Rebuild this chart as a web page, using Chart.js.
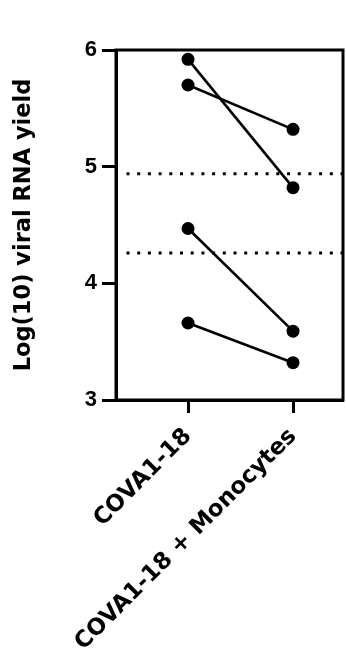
<!DOCTYPE html>
<html>
<head>
  <meta charset="utf-8">
  <title>Viral RNA yield</title>
  <script src="https://cdn.jsdelivr.net/npm/chart.js@4.4.1/dist/chart.umd.min.js"></script>
  <style>
    html, body {
      margin: 0;
      padding: 0;
      background: #ffffff;
    }
    #wrap {
      width: 346px;
      height: 657px;
    }
  </style>
</head>
<body>
  <div id="wrap"><canvas id="myChart"></canvas></div>
  <script>
    // datos
    var categories = ['COVA1-18', 'COVA1-18 + Monocytes'];
    var cova = [5.92, 5.70, 4.47, 3.66];
    var covaMono = [4.82, 5.32, 3.59, 3.32];
    var thresholds = [4.94, 4.26];
    var yTicks = [3, 4, 5, 6];

    var xMin = -0.686;
    var xMax = 1.476;
    var fontName = '"DejaVu Sans", sans-serif';

    var datasets = [];

    // lineas punteadas de referencia
    for (var t = 0; t < thresholds.length; t++) {
      datasets.push({
        data: [{ x: xMin + 0.1, y: thresholds[t] }, { x: xMax, y: thresholds[t] }],
        borderColor: '#000',
        borderWidth: 3,
        borderDash: [3, 7.7],
        pointRadius: 0,
        tension: 0
      });
    }

    // pares antes / despues
    for (var i = 0; i < cova.length; i++) {
      datasets.push({
        data: [{ x: 0, y: cova[i] }, { x: 1, y: covaMono[i] }],
        borderColor: '#000',
        borderWidth: 2.6,
        pointRadius: 6.5,
        pointBackgroundColor: '#000',
        pointBorderWidth: 0,
        tension: 0
      });
    }

    // marco alrededor del area del grafico
    var framePlugin = {
      id: 'frame',
      beforeDatasetsDraw: function(chart) {
        var a = chart.chartArea;
        var ctx = chart.ctx;
        ctx.save();
        ctx.strokeStyle = '#000';
        ctx.lineWidth = 3;
        ctx.strokeRect(a.left, a.top, a.right - a.left, a.bottom - a.top);
        ctx.restore();
      }
    };

    var ctx = document.getElementById('myChart').getContext('2d');
    var myChart = new Chart(ctx, {
      type: 'line',
      data: { datasets: datasets },
      plugins: [framePlugin],
      options: {
        responsive: true,
        maintainAspectRatio: false,
        animation: false,
        layout: {
          autoPadding: false,
          padding: { top: 50, right: 3, left: 0, bottom: 0 }
        },
        plugins: {
          legend: { display: false },
          tooltip: { enabled: false }
        },
        scales: {
          x: {
            type: 'linear',
            min: xMin,
            max: xMax,
            afterBuildTicks: function(axis) {
              axis.ticks = categories.map(function(c, k) { return { value: k }; });
            },
            afterFit: function(scale) {
              scale.height = 257;
              scale.paddingLeft = 0;
              scale.paddingRight = 0;
            },
            ticks: {
              autoSkip: false,
              minRotation: 45,
              maxRotation: 45,
              padding: 10,
              color: '#000',
              font: { family: fontName, weight: 'bold', size: 23 },
              callback: function(v) { return categories[v]; }
            },
            grid: {
              drawOnChartArea: false,
              drawTicks: true,
              tickLength: 13,
              tickWidth: 3,
              tickColor: '#000'
            },
            border: { display: true, color: '#000', width: 3 }
          },
          y: {
            min: 3,
            max: 6,
            afterBuildTicks: function(axis) {
              axis.ticks = yTicks.map(function(v) { return { value: v }; });
            },
            afterFit: function(scale) { scale.width = 116; },
            ticks: {
              padding: 5,
              color: '#000',
              font: { family: '"Liberation Sans", Arial, sans-serif', weight: 'bold', size: 22 }
            },
            grid: {
              drawOnChartArea: false,
              drawTicks: true,
              tickLength: 14,
              tickWidth: 3,
              tickColor: '#000'
            },
            border: { display: true, color: '#000', width: 3 },
            title: {
              display: true,
              text: 'Log(10) viral RNA yield',
              color: '#000',
              padding: { top: 10.5, bottom: 0 },
              font: { family: fontName, weight: 'bold', size: 22.5 }
            }
          }
        }
      }
    });
  </script>
</body>
</html>
